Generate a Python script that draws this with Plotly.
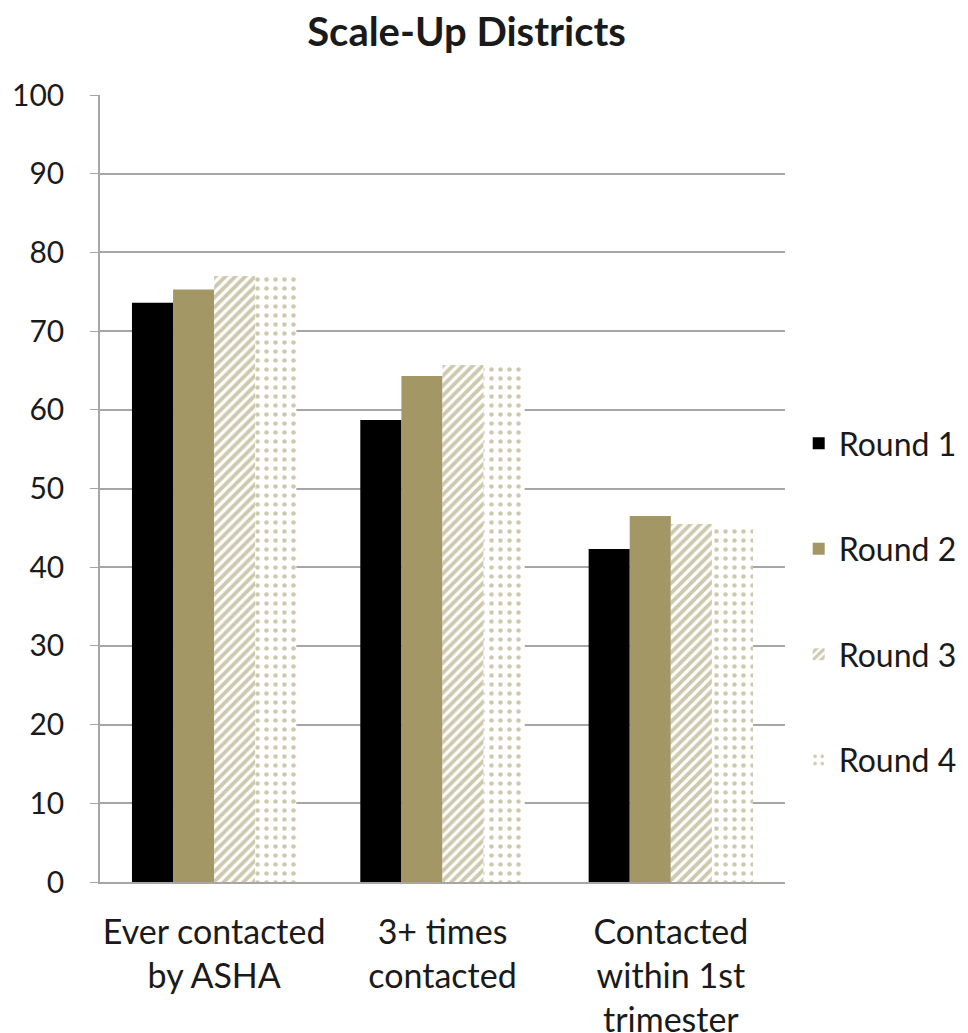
import plotly.graph_objects as go

categories = ["Ever contacted<br>by ASHA", "3+ times<br>contacted", "Contacted<br>within 1st<br>trimester"]
round1 = [73.6, 58.7, 42.3]
round2 = [75.3, 64.3, 46.5]
round3 = [77.0, 65.7, 45.5]
round4 = [77.0, 65.7, 45.0]
series_names = ["Round 1", "Round 2", "Round 3", "Round 4"]

TAN = "#A39766"
FONT = "Lato, 'Open Sans', sans-serif"

fig = go.Figure()
styles = [
    dict(color="#000000"),
    dict(color=TAN),
    dict(color="#FFFFFF", pattern=dict(shape="/", fgcolor="#9E915E", bgcolor="#FFFFFF", size=7, solidity=0.55)),
    dict(color="#FFFFFF", pattern=dict(shape=".", fgcolor="#A0925F", bgcolor="#FFFFFF", size=9, solidity=0.2)),
]
for name, vals, st in zip(series_names, [round1, round2, round3, round4], styles):
    fig.add_trace(go.Bar(
        x=categories, y=vals, name=name, legendgroup=name,
        marker=dict(line=dict(width=0), **st),
    ))

fig.update_layout(
    width=968, height=1033,
    margin=dict(l=100, r=183, t=95, b=151, autoexpand=False),
    paper_bgcolor="white", plot_bgcolor="white",
    barmode="group", bargap=0.28, bargroupgap=0,
    font=dict(family=FONT, size=31, color="#1a1a1a"),
    title=dict(text="<b>Scale-Up Districts</b>", x=0.482, xanchor="center", y=0.969, yanchor="middle",
               font=dict(family=FONT, size=40, color="#1a1a1a")),
    legend=dict(x=1.02, xanchor="left", y=0.356, yanchor="middle", traceorder="grouped",
                tracegroupgap=61, font=dict(family=FONT, size=32, color="#1a1a1a"),
                itemwidth=30),
    showlegend=True,
)
fig.update_yaxes(range=[0, 100], dtick=10, showgrid=True, gridcolor="#A6A6A6", gridwidth=1.5,
                 showline=True, linecolor="#A6A6A6", linewidth=1.5, ticks="outside", ticklen=8,
                 tickcolor="#A6A6A6", tickfont=dict(size=30), ticklabelstandoff=20, zeroline=False,
                 automargin=False)
fig.update_xaxes(showline=True, linecolor="#A6A6A6", linewidth=2, ticks="", tickfont=dict(size=34),
                 ticklabelstandoff=19, automargin=False)

fig.write_html("out.html")
